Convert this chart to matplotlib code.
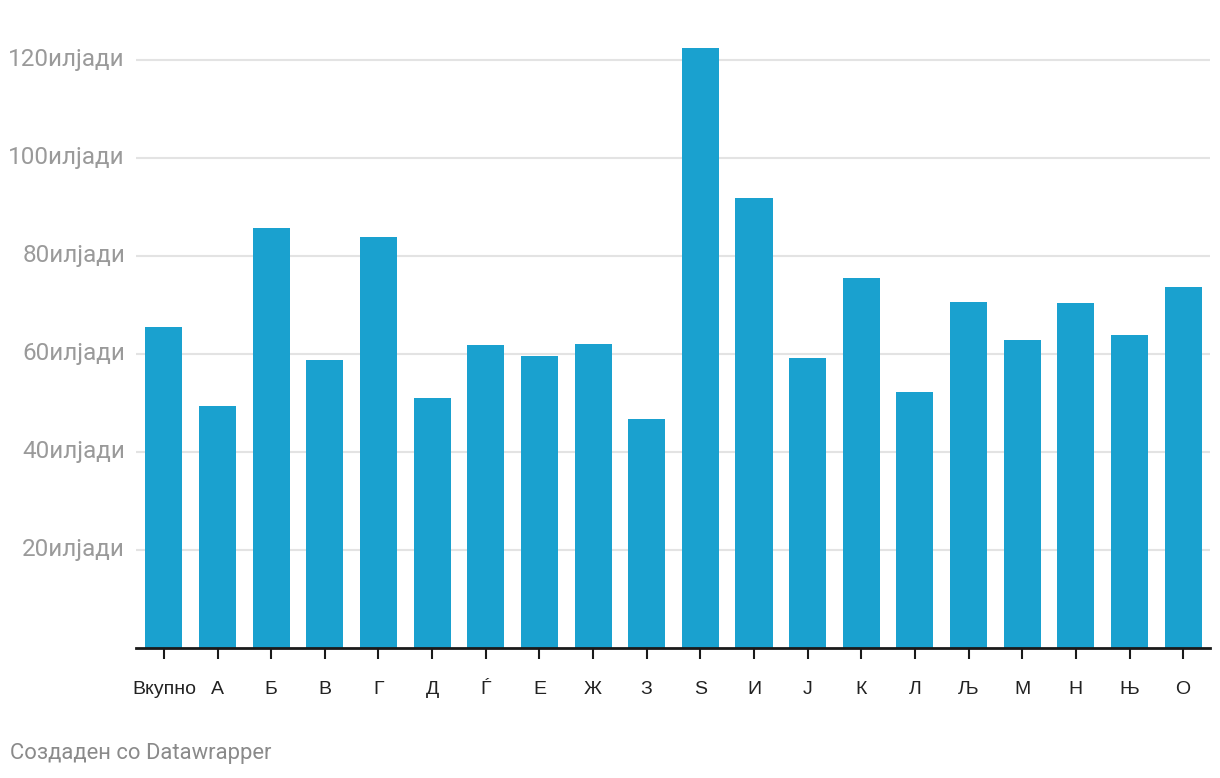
import matplotlib.pyplot as plt
import matplotlib.transforms as mtransforms

plt.rcParams['font.family'] = ['Roboto', 'DejaVu Sans']

categories = ["Вкупно", "А", "Б", "В", "Г", "Д", "Ѓ", "Е", "Ж", "З",
              "S", "И", "Ј", "К", "Л", "Љ", "М", "Н", "Њ", "О"]
values = [65.5, 49.4, 85.7, 58.8, 83.9, 51.0, 61.8, 59.6, 62.0, 46.7,
          122.4, 91.8, 59.2, 75.5, 52.2, 70.6, 62.9, 70.4, 63.9, 73.7]
yticks = [20, 40, 60, 80, 100, 120]
ytick_labels = ["%dилјади" % v for v in yticks]

fig = plt.figure(figsize=(12.2, 7.78), dpi=100)
ax = fig.add_axes([136 / 1220, 130 / 778, (1210 - 136) / 1220, (648 - 40) / 778])

x = list(range(len(categories)))
ax.bar(x, values, width=0.69, color="#1aa1cf", zorder=2)

ax.set_xlim(-0.52, len(categories) - 0.5)
ax.set_ylim(0, 124)

# gridlines
for v in yticks:
    ax.axhline(v, color="#e3e3e3", lw=1.5, zorder=1)
ax.axhline(0, color="#1a1a1a", lw=2, zorder=3, clip_on=False)

for s in ax.spines.values():
    s.set_visible(False)

ax.set_yticks([])
ax.set_xticks(x)
ax.set_xticklabels(categories, fontsize=14, color="#222222",
                   family=["Liberation Sans", "DejaVu Sans"])
ax.tick_params(axis="x", length=8, width=1.5, color="#1a1a1a", pad=16)

# y labels, right aligned left of the gridlines
trans = mtransforms.blended_transform_factory(fig.transFigure, ax.transData)
trans = mtransforms.offset_copy(trans, fig=fig, x=0, y=-6, units="dots")
for v, lab in zip(yticks, ytick_labels):
    ax.text(125 / 1220, v, lab, transform=trans, ha="right", va="baseline",
            fontsize=17.5, color="#9a9a9a")

fig.text(10 / 1220, 1 - 754 / 778, "Создаден со Datawrapper", ha="left", va="center",
         fontsize=15.8, color="#8a8a8a")

fig.savefig("out.png", dpi=100)
